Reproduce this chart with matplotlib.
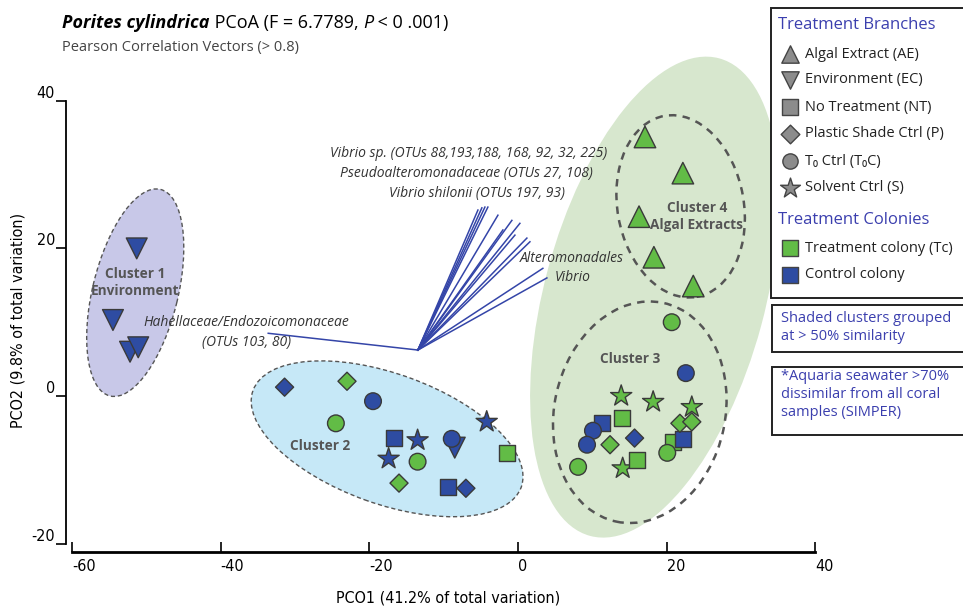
import matplotlib
matplotlib.use("Agg")
import matplotlib.pyplot as plt
from matplotlib.patches import Ellipse, Rectangle

# ---------------- data ----------------
# Algal Extract (AE) - triangle up
ae_x = [17.1, 22.2, 16.3, 18.3, 23.6]
ae_y = [35.1, 30.2, 24.3, 18.8, 14.9]
ae_c = ["Tc", "Tc", "Tc", "Tc", "Tc"]
# Environment (EC) - triangle down
ec_x = [-51.3, -54.5, -52.2, -51.1, -8.5]
ec_y = [20.0, 10.3, 6.0, 6.6, -7.0]
ec_c = ["C", "C", "C", "C", "C"]
# Solvent Ctrl (S) - star
s_x = [-13.5, -4.2, -17.4, 13.9, 18.2, 23.4, 14.1]
s_y = [-6.0, -3.5, -8.5, 0.0, -0.8, -1.5, -9.8]
s_c = ["C", "C", "C", "Tc", "Tc", "Tc", "Tc"]
# No Treatment (NT) - square
nt_x = [-16.7, -1.5, -9.4, 14.0, 11.3, 20.9, 22.2, 16.0]
nt_y = [-5.7, -7.7, -12.3, -3.0, -3.7, -6.2, -5.8, -8.7]
nt_c = ["C", "Tc", "C", "Tc", "C", "Tc", "C", "Tc"]
# Plastic Shade Ctrl (P) - diamond
p_x = [-31.4, -23.0, -16.0, -7.0, 21.8, 23.4, 15.7, 12.4]
p_y = [1.2, 2.0, -11.8, -12.5, -3.7, -3.5, -5.7, -6.6]
p_c = ["C", "Tc", "Tc", "C", "Tc", "Tc", "C", "Tc"]
# T0 Ctrl (T0C) - circle
t0_x = [-19.5, -24.5, -8.9, -13.5, 20.7, 22.6, 10.1, 9.3, 20.1, 8.1]
t0_y = [-0.7, -3.7, -5.8, -8.9, 10.0, 3.1, -4.7, -6.6, -7.7, -9.6]
t0_c = ["C", "Tc", "C", "Tc", "Tc", "C", "C", "C", "Tc", "Tc"]

# Pearson correlation vectors (origin and end points)
vec_origin = (-13.46, 6.23)
vec_end_x = [-5.38, -4.85, -4.44, -4.04, -2.69, -2.02, -0.81, -0.40, 0.27, 1.21, 1.62, 3.36, 3.90, -33.6]
vec_end_y = [25.2, 25.5, 25.6, 25.6, 24.5, 22.5, 23.8, 21.8, 23.4, 21.4, 20.9, 17.3, 16.0, 8.5]

x_ticks = [-60, -40, -20, 0, 20, 40]
y_ticks = [-20, 0, 20, 40]

legend_branches = ["Algal Extract (AE)", "Environment (EC)", "No Treatment (NT)",
                   "Plastic Shade Ctrl (P)", "T\u2080 Ctrl (T\u2080C)", "Solvent Ctrl (S)"]
legend_colonies = ["Treatment colony (Tc)", "Control colony"]

# ---------------- style ----------------
GREEN = "#62bc46"
BLUE = "#2e4ca2"
EDGE = "#3a3a3a"
TXTBLUE = "#3b3fae"
colmap = {"Tc": GREEN, "C": BLUE}
FONT = "Open Sans"
AXFONT = dict(family="DejaVu Sans", stretch="condensed")

fig = plt.figure(figsize=(9.63, 6.09), dpi=100)
ax = fig.add_axes([0, 0, 1, 1])
ax.set_xlim(-69.7, 59.9)
ax.set_ylim(-28.86, 53.66)
ax.patch.set_alpha(0)

# shaded clusters
ax.add_patch(Ellipse((18.4, 13.4), 67, 29.7, angle=75, facecolor="#d7e7ce", edgecolor="none", zorder=1))
ax.add_patch(Ellipse((-51.5, 14.0), 28.8, 11.5, angle=76.4, facecolor="#c8c8e8",
                     edgecolor="#555555", linestyle=(0, (3, 2)), lw=1.0, zorder=2))
ax.add_patch(Ellipse((-17.6, -5.8), 38.4, 17.6, angle=-20, facecolor="#c6e8f7",
                     edgecolor="#555555", linestyle=(0, (3, 2)), lw=1.0, zorder=2))
ax.add_patch(Ellipse((21.9, 25.7), 17.0, 24.9, angle=10, facecolor="none",
                     edgecolor="#555555", linestyle=(0, (3, 2.5)), lw=1.8, zorder=2))
ax.add_patch(Ellipse((16.4, -2.2), 23.0, 30.3, angle=-12, facecolor="none",
                     edgecolor="#555555", linestyle=(0, (3, 2.5)), lw=1.8, zorder=2))

# vectors
for ex, ey in zip(vec_end_x, vec_end_y):
    ax.plot([vec_origin[0], ex], [vec_origin[1], ey], color="#3445a8", lw=1.1, zorder=3)

# markers
def pts(xs, ys, cs, marker, size):
    ax.scatter(xs, ys, s=size ** 2, marker=marker, c=[colmap[c] for c in cs],
               edgecolors=EDGE, linewidths=1.0, zorder=5)

pts(ae_x, ae_y, ae_c, "^", 15.5)
pts(ec_x, ec_y, ec_c, "v", 15)
pts(s_x, s_y, s_c, "*", 16)
pts(nt_x, nt_y, nt_c, "s", 11.5)
pts(t0_x, t0_y, t0_c, "o", 12)
pts(p_x, p_y, p_c, "D", 9.2)

# cluster labels
lab = dict(color="#555555", fontweight="bold", fontsize=9.8, family=FONT, ha="center", va="center", zorder=6)
ax.text(-51.5, 15.4, "Cluster 1\nEnvironment", linespacing=1.3, **lab)
ax.text(-26.6, -6.8, "Cluster 2", **lab)
ax.text(15.1, 5.0, "Cluster 3", **lab)
ax.text(24.1, 24.3, "Cluster 4\nAlgal Extracts", linespacing=1.3, **lab)

# vector labels
vl = dict(color="#333333", style="italic", fontsize=10, family=FONT, ha="center", va="center", zorder=6)
ax.text(-6.7, 32.9, "Vibrio sp. (OTUs 88,193,188, 168, 92, 32, 225)", **vl)
ax.text(-6.9, 30.2, "Pseudoalteromonadaceae (OTUs 27, 108)", **vl)
ax.text(-5.5, 27.5, "Vibrio shilonii (OTUs 197, 93)", **vl)
ax.text(7.3, 18.7, "Alteromonadales", **vl)
ax.text(7.3, 16.0, "Vibrio", **vl)
ax.text(-36.5, 9.9, "Hahellaceae/Endozoicomonaceae", **vl)
ax.text(-36.5, 7.2, "(OTUs 103, 80)", **vl)

# axes
for s in ["top", "right"]:
    ax.spines[s].set_visible(False)
ax.spines["left"].set_position(("data", -60.8))
ax.spines["left"].set_bounds(-20, 40)
ax.spines["bottom"].set_position(("data", -21.1))
ax.spines["bottom"].set_bounds(-60, 40)
ax.spines["bottom"].set_linewidth(2.0)
ax.spines["left"].set_linewidth(1.3)
ax.set_xticks(x_ticks)
ax.set_yticks(y_ticks)
ax.set_xticklabels([str(v) for v in x_ticks], fontsize=11.5, **AXFONT)
ax.set_yticklabels([str(v) for v in y_ticks], fontsize=11.5, **AXFONT)
ax.tick_params(axis="x", direction="in", length=7, width=1.2, pad=5)
ax.tick_params(axis="y", direction="out", length=7, width=1.2, pad=1)
for t in ax.get_xticklabels():
    t.set_ha("left")
for t in ax.get_yticklabels():
    t.set_va("bottom")
ax.set_xlabel("PCO1 (41.2% of total variation)", fontsize=11.5, **AXFONT)
ax.xaxis.set_label_coords(448 / 963, 1 - 598 / 609)
ax.set_ylabel("PCO2 (9.8% of total variation)", fontsize=11.5, **AXFONT)
ax.yaxis.set_label_coords(18 / 963, 1 - 320 / 609)
for a in (ax.xaxis.label, ax.yaxis.label):
    a.set_va("center")

# title
t1 = fig.text(62 / 963, 1 - 32 / 609, "Porites cylindrica", fontsize=13, fontweight="bold",
              style="italic", family=FONT, va="bottom", ha="left")
t2 = plt.annotate(" PCoA (F = 6.7789, ", xy=(1, 0), xycoords=t1, fontsize=13, family=FONT,
                  va="bottom", ha="left")
t3 = plt.annotate("P", xy=(1, 0), xycoords=t2, fontsize=13, family=FONT, style="italic",
                  va="bottom", ha="left")
t4 = plt.annotate(" < 0 .001)", xy=(1, 0), xycoords=t3, fontsize=13, family=FONT,
                  va="bottom", ha="left")
fig.text(62 / 963, 1 - 48 / 609, "Pearson Correlation Vectors (> 0.8)", fontsize=10.5,
         family=FONT, color="#444444", va="center", ha="left")

# ---------------- legend overlay (pixel coordinates) ----------------
lg = fig.add_axes([0, 0, 1, 1])
lg.set_xlim(0, 963)
lg.set_ylim(609, 0)
lg.axis("off")
lg.patch.set_alpha(0)
box_kw = dict(facecolor="white", edgecolor="#222222", lw=1.4, zorder=1)
lg.add_patch(Rectangle((771, 8), 220, 290, **box_kw))
lg.add_patch(Rectangle((772, 305), 220, 47, **box_kw))
lg.add_patch(Rectangle((772, 367), 220, 68, **box_kw))

lg.text(778, 25, "Treatment Branches", color=TXTBLUE, fontsize=12, family=FONT, va="center", ha="left")
leg_markers = ["^", "v", "s", "D", "o", "*"]
leg_sizes = [12.5, 12.5, 11, 9.5, 11, 15]
row_y = [54, 80, 107, 134, 161, 188]
for m, sz, y, txt in zip(leg_markers, leg_sizes, row_y, legend_branches):
    lg.scatter([790], [y], marker=m, s=sz ** 2, c="#8c8c8c", edgecolors="#444444", linewidths=1, zorder=2)
    lg.text(805, y, txt, fontsize=10.5, family=FONT, color="#222222", va="center", ha="left")
lg.text(778, 220, "Treatment Colonies", color=TXTBLUE, fontsize=12, family=FONT, va="center", ha="left")
for y, col, txt in zip([248, 275], [GREEN, BLUE], legend_colonies):
    lg.scatter([790], [y], marker="s", s=11 ** 2, c=col, edgecolors="#444444", linewidths=1, zorder=2)
    lg.text(805, y, txt, fontsize=10.5, family=FONT, color="#222222", va="center", ha="left")

lg.text(781, 318, "Shaded clusters grouped", color=TXTBLUE, fontsize=10.5, family=FONT, va="center", ha="left")
lg.text(781, 337, "at > 50% similarity", color=TXTBLUE, fontsize=10.5, family=FONT, va="center", ha="left")
lg.text(781, 377, "*Aquaria seawater >70%", color=TXTBLUE, fontsize=10.5, family=FONT, va="center", ha="left")
lg.text(781, 395, "dissimilar from all coral", color=TXTBLUE, fontsize=10.5, family=FONT, va="center", ha="left")
lg.text(781, 413, "samples (SIMPER)", color=TXTBLUE, fontsize=10.5, family=FONT, va="center", ha="left")

fig.savefig("out.png", dpi=100)
